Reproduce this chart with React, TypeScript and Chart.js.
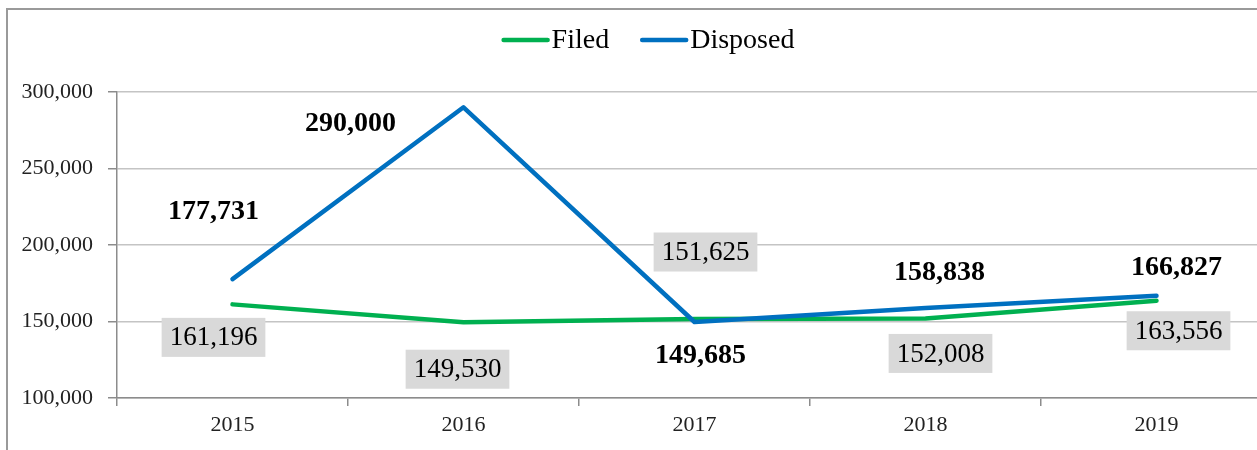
import React, { useEffect, useRef } from 'react';
import { Chart, registerables } from 'chart.js';

Chart.register(...registerables);

// ---- data ----
const years = ['2015', '2016', '2017', '2018', '2019'];
const filedValues = [161196, 149530, 151625, 152008, 163556];
const disposedValues = [177731, 290000, 149685, 158838, 166827];
const seriesNames = ['Filed', 'Disposed'];
const yMin = 100000;
const yMax = 300000;
const yStep = 50000;

// ---- label placement (offsets from each point, in px) ----
const filedLabelOffsets = [[-19, 33], [-6, 47], [11, -67], [15, 35], [22, 30]];
const disposedLabelOffsets = [[-19, -68], [-113, 15], [6, 33], [14, -36], [20, -29]];

const FONT = '"Liberation Serif", "Times New Roman", serif';
const GREEN = '#00b050';
const BLUE = '#0070c0';

const fmt = (v: number) => v.toLocaleString('en-US');

const legendPlugin = {
  id: 'lineLegend',
  afterDraw(chart: any) {
    const ctx = chart.ctx as CanvasRenderingContext2D;
    ctx.save();
    ctx.font = `28px ${FONT}`;
    const lineW = 48;
    const gap = 2;
    const spacing = 31;
    const items = chart.data.datasets.map((ds: any) => ({
      label: ds.label as string,
      color: ds.borderColor as string,
      w: ctx.measureText(ds.label).width,
    }));
    const total =
      items.reduce((s: number, it: any) => s + lineW + gap + it.w, 0) +
      spacing * (items.length - 1);
    let x = chart.width / 2 - total / 2;
    const lineY = 30;
    const baseY = 38;
    for (const it of items) {
      ctx.strokeStyle = it.color;
      ctx.lineWidth = 4.5;
      ctx.lineCap = 'round';
      ctx.beginPath();
      ctx.moveTo(x + 2, lineY);
      ctx.lineTo(x + lineW - 2, lineY);
      ctx.stroke();
      ctx.fillStyle = '#000';
      ctx.textAlign = 'left';
      ctx.textBaseline = 'alphabetic';
      ctx.fillText(it.label, x + lineW + gap, baseY);
      x += lineW + gap + it.w + spacing;
    }
    ctx.restore();
  },
};

const labelPlugin = {
  id: 'valueLabels',
  afterDatasetsDraw(chart: any) {
    const ctx = chart.ctx as CanvasRenderingContext2D;
    ctx.save();
    chart.data.datasets.forEach((ds: any, di: number) => {
      const meta = chart.getDatasetMeta(di);
      const boxed = ds.label === seriesNames[0];
      const offsets = boxed ? filedLabelOffsets : disposedLabelOffsets;
      meta.data.forEach((pt: any, i: number) => {
        const text = fmt(ds.data[i]);
        const cx = pt.x + offsets[i][0];
        const cy = pt.y + offsets[i][1];
        if (boxed) {
          ctx.font = `27px ${FONT}`;
          const w = ctx.measureText(text).width + 16;
          const h = 39;
          ctx.fillStyle = '#d9d9d9';
          ctx.fillRect(cx - w / 2, cy - h / 2, w, h);
          ctx.fillStyle = '#000';
        } else {
          ctx.font = `bold 28px ${FONT}`;
          ctx.fillStyle = '#000';
        }
        ctx.textAlign = 'center';
        ctx.textBaseline = 'middle';
        ctx.fillText(text, cx, cy + 1);
      });
    });
    ctx.restore();
  },
};

export default function App() {
  const ref = useRef<HTMLCanvasElement | null>(null);

  useEffect(() => {
    if (!ref.current) return;
    const chart = new Chart(ref.current, {
      type: 'line',
      data: {
        labels: years,
        datasets: [
          {
            label: seriesNames[0],
            data: filedValues,
            borderColor: GREEN,
            backgroundColor: GREEN,
            borderWidth: 4.5,
            borderCapStyle: 'round',
            borderJoinStyle: 'round',
            pointRadius: 0,
            tension: 0,
            order: 1,
          },
          {
            label: seriesNames[1],
            data: disposedValues,
            borderColor: BLUE,
            backgroundColor: BLUE,
            borderWidth: 4.5,
            borderCapStyle: 'round',
            borderJoinStyle: 'round',
            pointRadius: 0,
            tension: 0,
            order: 0,
          },
        ],
      },
      options: {
        responsive: false,
        animation: false,
        layout: { padding: { top: 82, left: 0, right: 16, bottom: 0 } },
        plugins: {
          legend: { display: false },
          tooltip: { enabled: false },
          title: { display: false },
        },
        scales: {
          x: {
            type: 'category',
            offset: true,
            afterFit: (s: any) => {
              s.height = 52;
            },
            grid: {
              display: true,
              drawOnChartArea: false,
              drawTicks: true,
              tickLength: 8,
              offset: true,
              color: '#8c8c8c',
              lineWidth: 1.5,
            },
            border: { display: true, color: '#8c8c8c', width: 1.5 },
            ticks: {
              font: { family: FONT, size: 22 },
              color: '#222',
              padding: 6,
              maxRotation: 0,
              autoSkip: false,
            },
          },
          y: {
            min: yMin,
            max: yMax,
            afterFit: (s: any) => {
              s.width = 109;
            },
            grid: {
              color: '#c4c4c4',
              lineWidth: 1.5,
              drawTicks: true,
              tickLength: 9,
              tickColor: '#8c8c8c',
            },
            border: { display: true, color: '#8c8c8c', width: 1.5 },
            ticks: {
              stepSize: yStep,
              font: { family: FONT, size: 22 },
              color: '#222',
              padding: 15,
              callback: (v: any) => fmt(Number(v)),
            },
          },
        },
      },
      plugins: [legendPlugin, labelPlugin],
    });
    return () => chart.destroy();
  }, []);

  return (
    <div
      style={{
        position: 'fixed',
        left: 6,
        top: 8,
        width: 1290,
        height: 460,
        borderLeft: '2px solid #9a9a9a',
        borderTop: '2px solid #9a9a9a',
        background: '#fff',
      }}
    >
      <canvas ref={ref} width={1280} height={440} style={{ display: 'block' }} />
    </div>
  );
}
